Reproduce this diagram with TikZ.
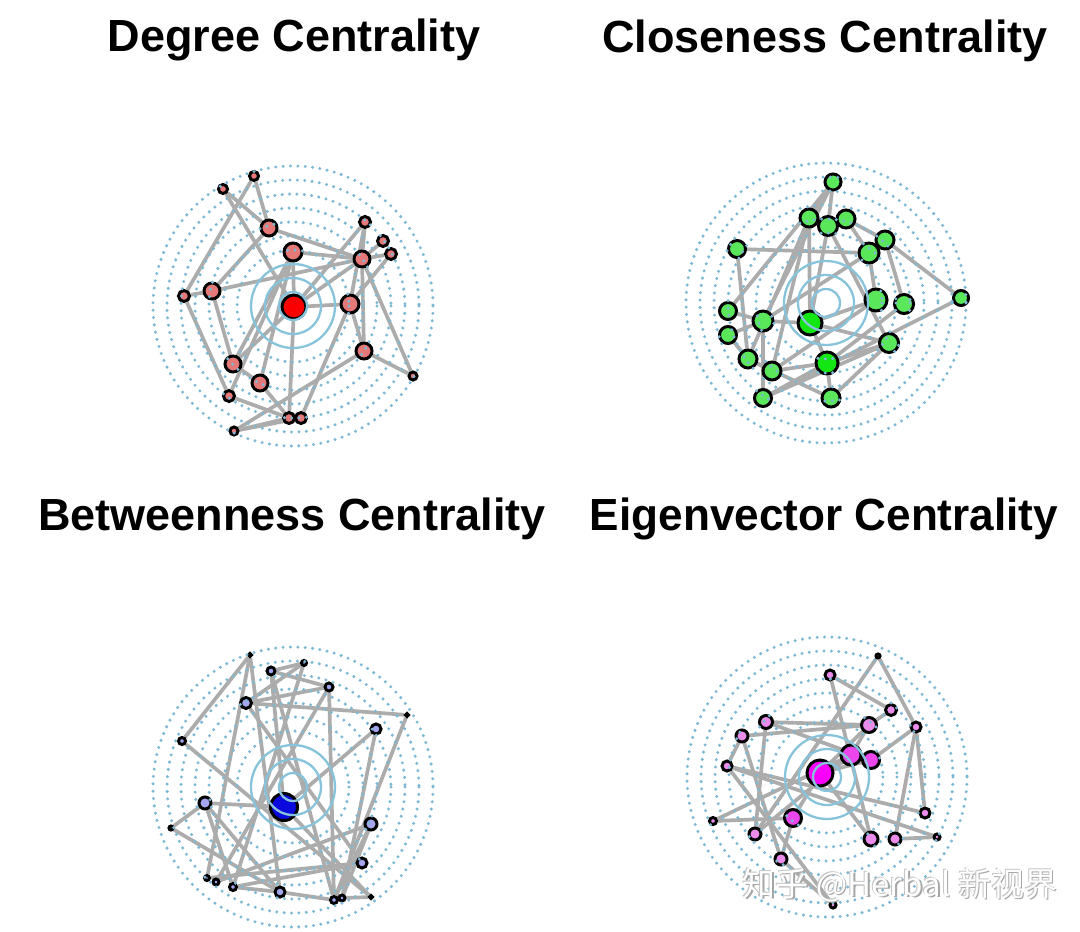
\documentclass[tikz,border=0pt]{standalone}
\usepackage{fontspec}
\setmainfont{Liberation Sans}
\newfontfamily\cjkfont{Noto Sans CJK SC}

\definecolor{ringblue}{RGB}{135,196,220}
\definecolor{dotblue}{RGB}{125,185,212}
\definecolor{edgegray}{RGB}{172,172,172}
\definecolor{degfill}{RGB}{230,120,120}
\definecolor{degcore}{RGB}{250,0,0}
\definecolor{closefill}{RGB}{90,232,90}
\definecolor{closecore}{RGB}{20,230,20}
\definecolor{betfill}{RGB}{165,165,240}
\definecolor{betcore}{RGB}{10,10,220}
\definecolor{eigfill}{RGB}{235,140,235}
\definecolor{eigmid}{RGB}{235,70,235}
\definecolor{eigcore}{RGB}{250,0,250}

\pgfdeclarelayer{bg}
\pgfdeclarelayer{edges}
\pgfdeclarelayer{rings}
\pgfsetlayers{bg,edges,main,rings}

\tikzset{
	vert/.style = {circle, draw = black, line width = 0.85pt, inner sep = 0pt},
	link/.style = {edgegray, line width = 1.05pt},
	ringsolid/.style = {ringblue, line width = 0.65pt},
	ringdot/.style = {dotblue, line width = 0.95pt, line cap = round, dash pattern = on 0pt off 2.1pt},
	title/.style = {font = \bfseries\fontsize{12.8}{14}\selectfont, anchor = base},
	wmark/.style = {font = \cjkfont\fontsize{9.4}{10}\selectfont}
}

\newcommand\drawrings[2]{%
	\foreach \r in {1,2,3} \draw [ringsolid] (#1,#2) circle [radius = 14*\r];
	\foreach \r in {4,...,10} \draw [ringdot] (#1,#2) circle [radius = 14*\r];
}

\begin{document}
\begin{tikzpicture}[x = 0.01cm, y = -0.01cm]
	\begin{pgfonlayer}{bg}
	\fill [white] (0,0) rectangle (1080,931);
	\end{pgfonlayer}
	\useasboundingbox (0,0) rectangle (1080,931);

	\node [title] (tdeg) at (294,52) {Degree Centrality};
	\node [title] (tclo) at (825,53) {Closeness Centrality};
	\node [title] (tbet) at (292,530) {Betweenness Centrality};
	\node [title, xscale = 0.98] (teig) at (824,530) {Eigenvector Centrality};

	% degree
	\foreach \n/\x/\y/\s/\c in {1/254/176/9/degfill, 2/223/189/9/degfill, 3/269/228/16/degfill, 4/293/252/18/degfill,
		5/365/222/11/degfill, 6/383/241/11/degfill, 7/391/254/11/degfill, 8/362/259/16/degfill, 9/350/304/18/degfill,
		10/294/307/24/degcore, 11/212/291/16/degfill, 12/184/296/11/degfill, 13/233/364/16/degfill, 14/260/383/16/degfill,
		15/229/396/11/degfill, 16/364/351/16/degfill, 17/413/376/8/degfill, 18/289/418/11/degfill, 19/301/418/11/degfill,
		20/234/431/8/degfill}
		\node [vert, minimum size = \s*0.1mm, fill = \c] (d\n) at (\x,\y) {};
	% closeness
	\foreach \n/\x/\y/\s/\c in {1/833/182/16/closefill, 2/809/218/18/closefill, 3/828/226/19/closefill, 4/846/219/18/closefill,
		5/737/249/17/closefill, 6/885/240/18/closefill, 7/869/253/20/closefill, 8/961/298/15/closefill, 9/876/300/22/closefill,
		10/904/304/19/closefill, 11/728/311/17/closefill, 12/763/321/20/closefill, 13/810/323/24/closecore,
		14/728/335/17/closefill, 15/889/343/19/closefill, 16/748/359/18/closefill, 17/772/371/18/closefill,
		18/827/363/22/closecore, 19/763/398/17/closefill, 20/831/398/18/closefill}
		\node [vert, minimum size = \s*0.1mm, fill = \c] (c\n) at (\x,\y) {};
	% betweenness
	\foreach \n/\x/\y/\s/\c in {1/250/655/3/betfill, 2/271/671/8/betfill, 3/304/663/5/betfill, 4/329/687/8/betfill,
		5/246/703/11/betfill, 6/407/715/3/betfill, 7/376/729/10/betfill, 8/182/741/7/betfill, 9/284/807/27/betcore,
		10/205/803/12/betfill, 11/371/824/12/betfill, 12/171/828/4/betfill, 13/362/863/10/betfill, 14/207/878/5/betfill,
		15/216/882/6/betfill, 16/233/887/7/betfill, 17/280/892/10/betfill, 18/334/900/7/betfill, 19/342/898/6/betfill,
		20/371/897/3/betfill}
		\node [vert, minimum size = \s*0.1mm, fill = \c] (b\n) at (\x,\y) {};
	% eigenvector
	\foreach \n/\x/\y/\s/\c in {1/878/656/4/eigfill, 2/830/675/10/eigfill, 3/891/710/11/eigfill, 4/766/722/13/eigfill,
		5/869/725/15/eigfill, 6/916/727/10/eigfill, 7/742/736/12/eigfill, 8/851/755/20/eigmid, 9/871/760/17/eigmid,
		10/727/766/10/eigfill, 11/820/773/26/eigcore, 12/925/813/10/eigfill, 13/713/821/7/eigfill, 14/793/818/17/eigmid,
		15/755/834/12/eigfill, 16/871/839/14/eigfill, 17/895/839/12/eigfill, 18/937/837/6/eigfill, 19/781/859/12/eigfill,
		20/833/905/6/eigfill}
		\node [vert, minimum size = \s*0.1mm, fill = \c] (e\n) at (\x,\y) {};

	\begin{pgfonlayer}{edges}
	\foreach \a/\b in {1/3, 1/12, 2/3, 2/10, 3/8, 3/11, 4/8, 4/10, 4/13, 4/14, 11/8, 11/12, 11/13, 5/8, 5/10, 5/9,
		6/8, 7/8, 7/9, 8/17, 8/16, 10/9, 10/13, 10/18, 9/16, 9/19, 16/17, 16/20, 12/15, 13/14, 15/18, 15/4,
		14/18, 18/20, 19/20, 10/8}
		\draw [link] (d\a) -- (d\b);
	\foreach \a/\b in {1/2, 1/3, 1/12, 1/11, 2/3, 2/16, 2/17, 2/13, 3/4, 3/13, 3/15, 4/6, 4/7, 5/7, 5/16, 6/8,
		6/10, 7/9, 7/12, 8/19, 9/13, 9/17, 11/12, 12/13, 12/19, 14/16, 14/12, 16/17, 16/20, 17/18, 18/20,
		18/15, 19/15, 19/18, 13/18, 10/18, 20/15, 13/15}
		\draw [link] (c\a) -- (c\b);
	\foreach \a/\b in {1/8, 1/14, 1/17, 2/3, 2/9, 2/4, 2/18, 3/5, 3/16, 4/5, 4/15, 4/18, 5/6, 5/13, 6/18, 7/9,
		7/19, 8/20, 9/10, 10/12, 10/16, 10/17, 11/15, 11/18, 12/17, 13/14, 13/16, 16/17, 17/18, 18/19,
		19/20, 9/20, 11/19}
		\draw [link] (b\a) -- (b\b);
	\foreach \a/\b in {1/6, 1/15, 2/3, 2/16, 3/5, 4/5, 4/9, 4/15, 7/5, 7/10, 7/19, 10/12, 10/20, 5/11, 8/9,
		11/8, 11/9, 6/17, 6/12, 6/9, 13/8, 13/14, 14/11, 14/19, 16/11, 17/18, 10/18, 15/8, 19/20, 5/8}
		\draw [link] (e\a) -- (e\b);
	\end{pgfonlayer}

	\begin{pgfonlayer}{rings}
	\drawrings{293}{306}
	\drawrings{826}{303}
	\drawrings{293}{787}
	\drawrings{827}{777}
	\node [wmark, text = gray!70] (wmshade) at (901.5,886.5) {知乎 @Herbal 新视界};
	\node [wmark, text = gray!45] (wmedge) at (899,884) {知乎 @Herbal 新视界};
	\node [wmark, text = white] (wm) at (900,885) {知乎 @Herbal 新视界};
	\end{pgfonlayer}
\end{tikzpicture}
\end{document}
